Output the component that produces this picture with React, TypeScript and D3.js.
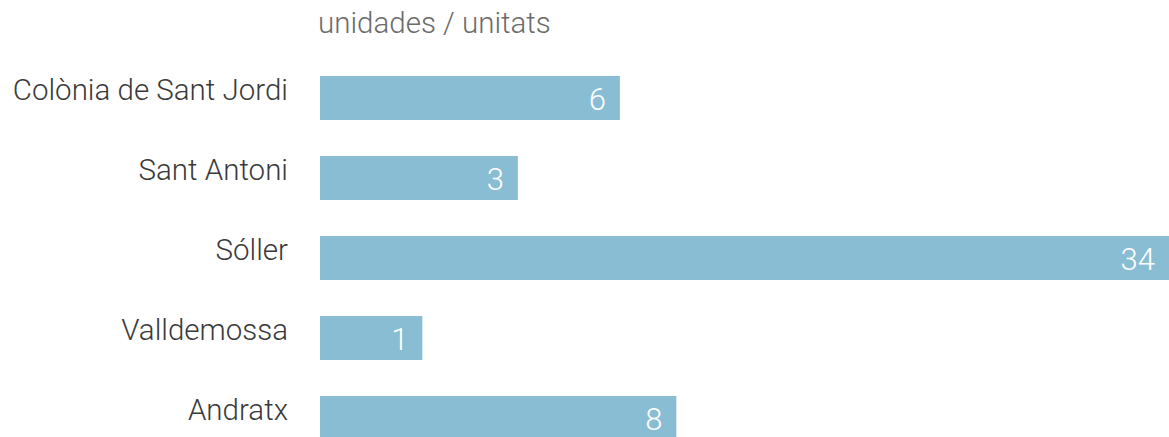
import React from "react";
import * as d3 from "d3";

const categories = ["Colònia de Sant Jordi", "Sant Antoni", "Sóller", "Valldemossa", "Andratx"];
const values = [6, 3, 34, 1, 8];
const unitLabel = "unidades / unitats";

const W = 1169;
const H = 437;
const x0 = 320;
const FONT = "Roboto, 'Open Sans', sans-serif";

export default function App() {
  const x = d3.scalePow().exponent(0.6).domain([0, d3.max(values) as number]).range([x0, W]);
  const y = d3.scaleBand<string>().domain(categories).range([76, 440]).paddingInner(0.45).paddingOuter(0);
  const bw = y.bandwidth();
  return (
    <svg width={W} height={H} style={{ position: "absolute", left: 0, top: 0, display: "block", background: "#fff" }}>
      <text x={318} y={33} fontFamily={FONT} fontWeight={300} fontSize={29.5} fill="#6b6b6b">{unitLabel}</text>
      {categories.map((c, i) => {
        const yy = y(c) as number;
        const xe = x(values[i]);
        return (
          <g key={c}>
            <rect x={x0} y={yy} width={xe - x0} height={bw} fill="#89bdd3" />
            <text x={288} y={yy + 24} textAnchor="end" fontFamily={FONT} fontWeight={300} fontSize={29.5} fill="#3a3a3a">{c}</text>
            <text x={xe - 14} y={yy + 34} textAnchor="end" fontFamily={FONT} fontWeight={300} fontSize={31} fill="#ffffff">{values[i]}</text>
          </g>
        );
      })}
    </svg>
  );
}
